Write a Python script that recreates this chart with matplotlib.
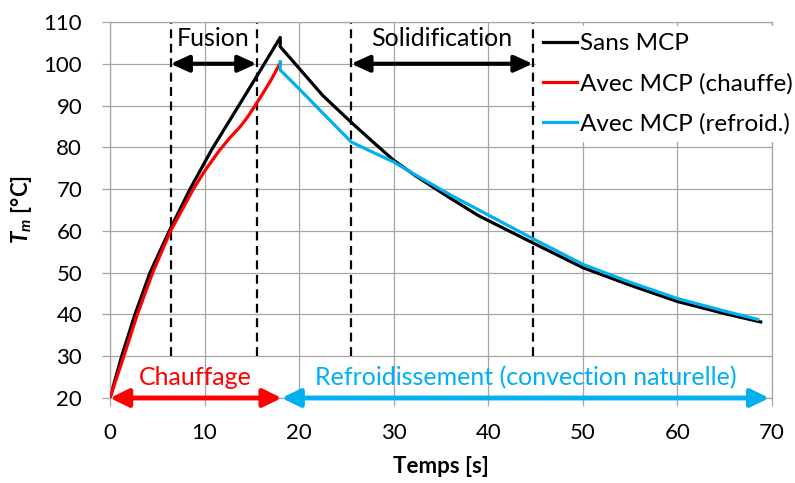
import matplotlib
matplotlib.use("Agg")
import matplotlib.pyplot as plt

plt.rcParams['font.family'] = ['Lato', 'DejaVu Sans']
plt.rcParams['mathtext.fontset'] = 'custom'
plt.rcParams['mathtext.rm'] = 'Lato'
plt.rcParams['mathtext.it'] = 'Lato:italic'
plt.rcParams['mathtext.bf'] = 'Lato:bold'
plt.rcParams['mathtext.bfit'] = 'Lato:bold:italic'

# ---- data ----
t_sans = [0, 1.23, 2.64, 4.23, 6.27, 8.46, 10.74, 14, 16, 18, 18, 20, 22.5, 25.5, 28, 30, 32.3, 36, 39, 45, 50, 55, 60, 65, 68.8]
T_sans = [20, 30, 40, 50, 60, 70, 79.4, 91.4, 98.8, 106.3, 104.1, 98.9, 92.4, 86.0, 80.9, 76.9, 73.2, 67.8, 63.6, 56.8, 51.2, 47, 43.1, 40.2, 38.2]

t_chauffe = [0, 1.46, 2.89, 4.51, 6.41, 8.81, 10, 11.45, 12.6, 13.75, 14.5, 15.2, 16, 17, 18]
T_chauffe = [20, 30, 40, 50, 60, 70, 74.3, 78.9, 82.1, 84.9, 87.1, 89.5, 92.3, 96, 100.2]

t_refroid = [18, 18, 20, 22.5, 25.5, 28, 30, 32.3, 36, 39, 45, 50, 55, 60, 65, 68.5]
T_refroid = [100.5, 98.5, 94.0, 88.2, 81.3, 78.6, 76.5, 73.4, 68.6, 65.0, 57.8, 52, 47.7, 43.8, 40.8, 38.8]

series_labels = ['Sans MCP', 'Avec MCP (chauffe)', 'Avec MCP (refroid.)']
series_colors = ['#000000', '#FF0000', '#00B0F0']

phase_lines = [6.4, 15.5, 25.5, 44.7]          # dashed vertical limits
phase_names = ['Fusion', 'Solidification']
phase_spans = [(6.4, 15.5), (25.5, 44.7)]

stage_names = ['Chauffage', 'Refroidissement (convection naturelle)']
stage_spans = [(0, 18.15), (18.15, 69.7)]
stage_text_x = [9.0, 44.0]

xticks = [0, 10, 20, 30, 40, 50, 60, 70]
yticks = [20, 30, 40, 50, 60, 70, 80, 90, 100, 110]

# ---- figure ----
fig = plt.figure(figsize=(7.95, 4.83), dpi=100)
ax = fig.add_axes([110/795, 1-398/483, 662/795, 376/483])

grid_c = '#A6A6A6'
ax.set_xlim(0, 70)
ax.set_ylim(20, 110)
ax.set_xticks(xticks)
ax.set_yticks(yticks)
ax.grid(True, color=grid_c, lw=0.9)
ax.set_axisbelow(True)
for s in ax.spines.values():
    s.set_color(grid_c)
    s.set_linewidth(0.9)
ax.tick_params(axis='both', direction='out', length=6, width=0.9, color=grid_c,
               labelsize=16)
ax.tick_params(axis='x', pad=12)
ax.tick_params(axis='y', pad=14)

lines = []
for t, T, lab, c in zip([t_sans, t_chauffe, t_refroid], [T_sans, T_chauffe, T_refroid],
                        series_labels, series_colors):
    ln, = ax.plot(t, T, color=c, lw=2.3, label=lab, zorder=3 if c != '#000000' else 2.5,
                  solid_joinstyle='round')
    lines.append(ln)

ax.vlines(phase_lines, 30, 110, colors='black', linestyles=(0, (4, 2.5)), lw=1.6, zorder=2)

# phase arrows and text
for name, (a, b) in zip(phase_names, phase_spans):
    ax.annotate('', xy=(b, 100), xytext=(a, 100),
                arrowprops=dict(arrowstyle='<|-|>,head_length=0.55,head_width=0.25',
                                mutation_scale=20, color='black', lw=3,
                                shrinkA=0, shrinkB=0), zorder=4)
    ax.text((a + b) / 2, 106, name, ha='center', va='center', fontsize=18, zorder=4)

# stage arrows
for name, (a, b), tx, c in zip(stage_names, stage_spans, stage_text_x, series_colors[1:]):
    ax.annotate('', xy=(b, 20), xytext=(a, 20),
                arrowprops=dict(arrowstyle='<|-|>,head_length=0.55,head_width=0.27',
                                mutation_scale=20, color=c, lw=3.5,
                                shrinkA=0, shrinkB=0), zorder=5, annotation_clip=False)
    ax.text(tx, 24.8, name, ha='center', va='center', fontsize=18, color=c, zorder=5)

ax.set_xlabel('Temps [s]', fontsize=16, fontweight='bold', va='center')
ax.xaxis.set_label_coords(0.5, -0.1835)
ax.set_ylabel(r'$\mathbfit{T}_{\mathbfit{m}}$ [°C]', fontsize=16, fontweight='bold',
              va='center', ha='center')
ax.yaxis.set_label_coords(-0.133, 0.5)

leg = ax.legend(handles=lines, loc='upper left', bbox_to_anchor=(536/795, 1-26/483),
                bbox_transform=fig.transFigure, fontsize=17.5, frameon=True,
                facecolor='white', edgecolor='none', framealpha=1, fancybox=False,
                borderpad=0.3, borderaxespad=0, handlelength=1.4, handletextpad=0.1,
                labelspacing=0.76)
leg.set_zorder(6)

fig.savefig('out.png', dpi=100)
